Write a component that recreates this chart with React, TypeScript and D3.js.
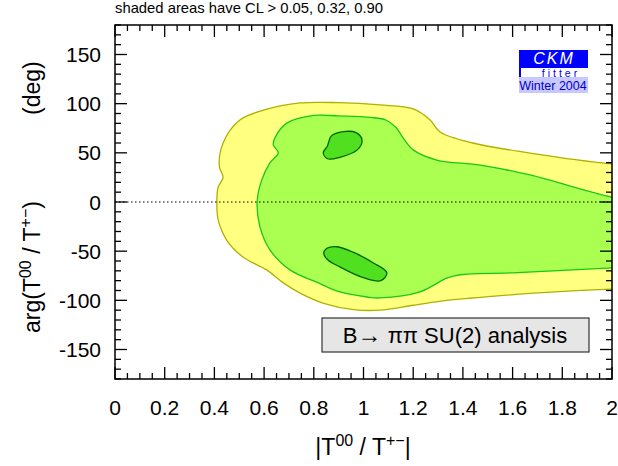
import React from "react";
import * as d3 from "d3";

const W = 618;
const H = 466;

// CL > 0.05 contour (yellow), points [|T00/T+-|, arg deg]
const outerCL05: [number, number][] = [
  [2.1, 37], [2.0, 38.7], [1.67, 49.8], [1.44, 60], [1.308, 71.2], [1.268, 83.4],
  [1.2, 94.6], [1.066, 98.7], [0.9, 101], [0.745, 100.7], [0.6, 93.6], [0.5, 83],
  [0.435, 60], [0.42, 36], [0.435, 25], [0.415, 15], [0.41, 0], [0.415, -18],
  [0.45, -39], [0.515, -56], [0.61, -69], [0.676, -82], [0.745, -92.6],
  [0.84, -103], [0.96, -109.5], [1.066, -110], [1.2, -105], [1.335, -100],
  [1.42, -98], [1.67, -93], [2.0, -88.6], [2.1, -88], [2.3, -25],
];

// CL > 0.32 contour (light green)
const middleCL32: [number, number][] = [
  [2.1, 2], [2.0, 5], [1.67, 27.5], [1.47, 37.6], [1.295, 42.7], [1.2, 53],
  [1.16, 65], [1.13, 76], [1.09, 83.4], [1.03, 86], [0.9, 87.5], [0.8, 88],
  [0.69, 80], [0.645, 66], [0.637, 58], [0.657, 50], [0.624, 40], [0.59, 22],
  [0.572, 0], [0.583, -25], [0.624, -49], [0.704, -69], [0.825, -83],
  [0.905, -91.5], [1.014, -96.6], [1.066, -97.6], [1.227, -91.5], [1.335, -77.5],
  [1.39, -74], [1.6, -72], [2.0, -67], [2.1, -66], [2.3, -30],
];

// CL > 0.90 islands (dark green)
const innerTop: [number, number][] = [
  [0.87, 67], [0.918, 71.5], [0.97, 70.5], [0.994, 63], [0.975, 53],
  [0.905, 45.5], [0.855, 44], [0.838, 50], [0.855, 57], [0.86, 61],
];
const innerBottom: [number, number][] = [
  [0.84, -52], [0.853, -47], [0.893, -45.5], [0.958, -51], [1.04, -62],
  [1.094, -72], [1.07, -80], [1.0, -77], [0.905, -66], [0.857, -59],
];

const xMajorTicks = [0, 0.2, 0.4, 0.6, 0.8, 1, 1.2, 1.4, 1.6, 1.8, 2];
const xTickLabels = ["0", "0.2", "0.4", "0.6", "0.8", "1", "1.2", "1.4", "1.6", "1.8", "2"];
const yMajorTicks = [-150, -100, -50, 0, 50, 100, 150];
const yTickLabels = ["-150", "-100", "-50", "0", "50", "100", "150"];

const left = 115, right = 612, top = 25, bottom = 379;

export default function App() {
  const x = d3.scaleLinear().domain([0, 2]).range([left, right]);
  const y = d3.scaleLinear().domain([-180, 180]).range([bottom, top]);
  const line = d3
    .line<[number, number]>()
    .x((d) => x(d[0]))
    .y((d) => y(d[1]))
    .curve(d3.curveCatmullRomClosed.alpha(0.5));

  const xMinor = d3.range(0, 2.0001, 0.05).filter((v) => Math.abs(v / 0.2 - Math.round(v / 0.2)) > 1e-6);
  const yMinor = d3.range(-180, 180.001, 10).filter((v) => v % 50 !== 0);
  const font = "Liberation Sans, Arial, sans-serif";
  const majorLen = 12;
  const minorLen = 6;

  return (
    <svg width={W} height={H} style={{ position: "absolute", left: 0, top: 0, background: "#fff" }} fontFamily={font}>
      <defs>
        <clipPath id="plotClip">
          <rect x={left} y={top} width={right - left} height={bottom - top} />
        </clipPath>
      </defs>
      <text x={115} y={13} fontSize={14.8}>shaded areas have CL &gt; 0.05, 0.32, 0.90</text>

      <g clipPath="url(#plotClip)">
        <path d={line(outerCL05) || ""} fill="#ffff80" stroke="#b0b000" strokeWidth={1.3} />
        <path d={line(middleCL32) || ""} fill="#aaff50" stroke="#18c818" strokeWidth={1.3} />
        <path d={line(innerTop) || ""} fill="#50e020" stroke="#006400" strokeWidth={1.3} />
        <path d={line(innerBottom) || ""} fill="#50e020" stroke="#006400" strokeWidth={1.3} />
        <line x1={x(0)} x2={x(2)} y1={y(0)} y2={y(0)} stroke="#000" strokeWidth={1} strokeDasharray="1.5,2.5" />
      </g>

      {/* frame */}
      <rect x={left} y={top} width={right - left} height={bottom - top} fill="none" stroke="#000" strokeWidth={1.5} />
      {/* x ticks */}
      {xMajorTicks.map((v) => (
        <g key={"xM" + v}>
          <line x1={x(v)} x2={x(v)} y1={bottom} y2={bottom - majorLen} stroke="#000" strokeWidth={1.3} />
          <line x1={x(v)} x2={x(v)} y1={top} y2={top + majorLen} stroke="#000" strokeWidth={1.3} />
        </g>
      ))}
      {xMinor.map((v) => (
        <g key={"xm" + v}>
          <line x1={x(v)} x2={x(v)} y1={bottom} y2={bottom - minorLen} stroke="#000" strokeWidth={1.3} />
          <line x1={x(v)} x2={x(v)} y1={top} y2={top + minorLen} stroke="#000" strokeWidth={1.3} />
        </g>
      ))}
      {yMajorTicks.map((v) => (
        <g key={"yM" + v}>
          <line x1={left} x2={left + majorLen} y1={y(v)} y2={y(v)} stroke="#000" strokeWidth={1.3} />
          <line x1={right} x2={right - majorLen} y1={y(v)} y2={y(v)} stroke="#000" strokeWidth={1.3} />
        </g>
      ))}
      {yMinor.map((v) => (
        <g key={"ym" + v}>
          <line x1={left} x2={left + minorLen} y1={y(v)} y2={y(v)} stroke="#000" strokeWidth={1.3} />
          <line x1={right} x2={right - minorLen} y1={y(v)} y2={y(v)} stroke="#000" strokeWidth={1.3} />
        </g>
      ))}
      {/* tick labels */}
      {xMajorTicks.map((v, i) => (
        <text key={"xl" + v} x={x(v)} y={415} fontSize={21} textAnchor="middle">{xTickLabels[i]}</text>
      ))}
      {yMajorTicks.map((v, i) => (
        <text key={"yl" + v} x={101} y={y(v) + 7.5} fontSize={21} textAnchor="end">{yTickLabels[i]}</text>
      ))}

      {/* axis titles */}
      <text x={363} y={455} fontSize={23} textAnchor="middle">
        |T<tspan dy={-9} fontSize={16}>00</tspan><tspan dy={9}> / T</tspan><tspan dy={-9} fontSize={16}>+−</tspan><tspan dy={9}>|</tspan>
      </text>
      <g transform="translate(40,333) rotate(-90)">
        <text x={0} y={0} fontSize={23}>
          arg(T<tspan dy={-9} fontSize={16}>00</tspan><tspan dy={9}> / T</tspan><tspan dy={-9} fontSize={16}>+−</tspan><tspan dy={9}>)</tspan>
        </text>
        <text x={218} y={0} fontSize={23}>(deg)</text>
      </g>

      {/* CKMfitter logo */}
      <g>
        <rect x={519} y={50} width={69} height={27} fill="#0000ff" />
        <rect x={521} y={68} width={67} height={9} fill="#fff" />
        <rect x={519} y={77} width={69} height={16} fill="#c8c8ff" />
        <text x={554} y={63.5} fontSize={16} fontStyle="italic" fill="#fff" textAnchor="middle" letterSpacing={2}>CKM</text>
        <text x={561} y={77} fontSize={10.5} fill="#0000ff" textAnchor="middle" letterSpacing={3}>fitter</text>
        <text x={553} y={90} fontSize={12.5} fill="#0000cc" textAnchor="middle">Winter 2004</text>
      </g>

      {/* legend box */}
      <rect x={322} y={318} width={267} height={34} fill="#e6e6e6" stroke="#333" strokeWidth={1.2} />
      <text x={455} y={343} fontSize={22} textAnchor="middle">B<tspan fontSize={24}>→</tspan> ππ SU(2) analysis</text>
    </svg>
  );
}
